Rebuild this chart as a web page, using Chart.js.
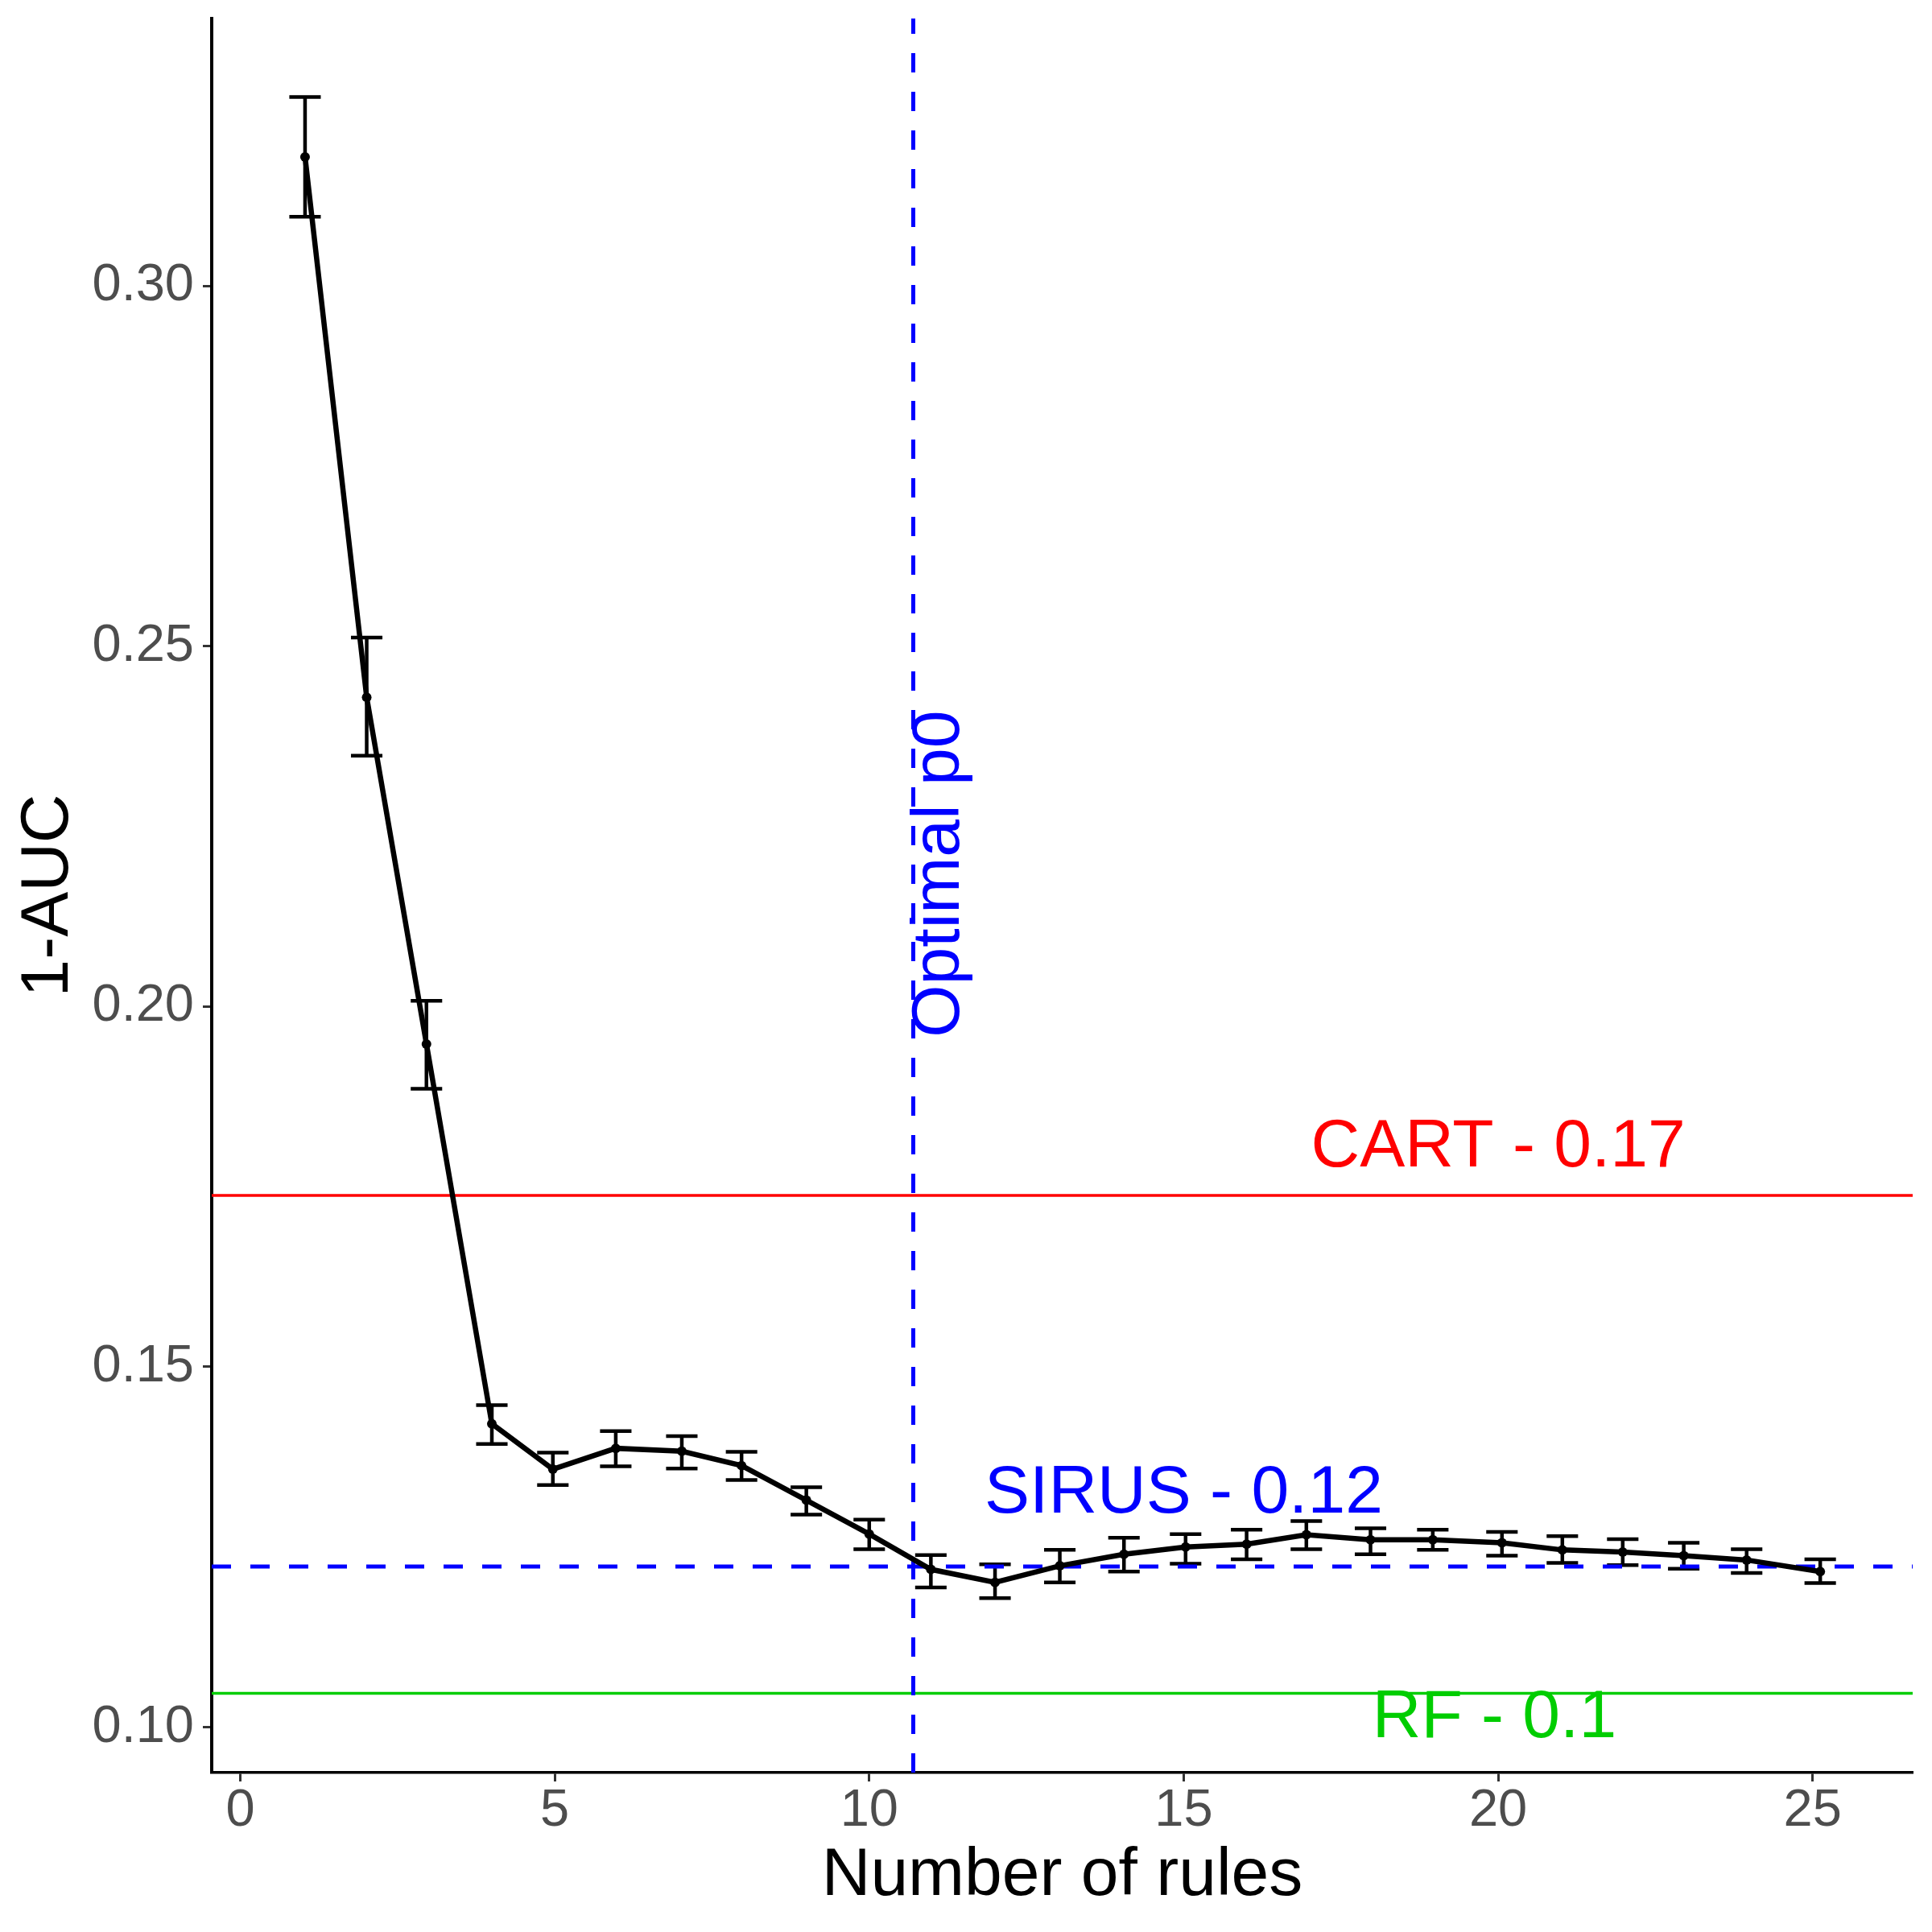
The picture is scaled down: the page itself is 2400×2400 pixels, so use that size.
<!DOCTYPE html>
<html>
<head>
<meta charset="utf-8">
<style>
  html, body { margin: 0; padding: 0; background: #ffffff; }
  #wrap { width: 2400px; height: 2400px; }
</style>
<script src="https://cdn.jsdelivr.net/npm/chart.js@4.4.1/dist/chart.umd.min.js"></script>
</head>
<body>
<div id="wrap"><canvas id="c" width="2400" height="2400"></canvas></div>
<script>
// ---- data ----
const numberOfRules = [1.03, 2.01, 2.96, 4.00, 4.97, 5.97, 7.02, 7.97, 9.00, 10.00,
                       10.98, 12.00, 13.03, 14.05, 15.03, 16.00, 16.95, 17.97, 18.96, 20.06,
                       21.02, 21.98, 22.95, 23.95, 25.12];
const meanError = [0.3179, 0.2429, 0.1948, 0.1421, 0.1358, 0.1387, 0.1383, 0.1363, 0.1315, 0.1268,
                   0.1219, 0.1201, 0.1224, 0.1240, 0.1250, 0.1254, 0.1267, 0.1260, 0.1260, 0.1256,
                   0.1246, 0.1243, 0.1238, 0.1232, 0.1216];
const upperError = [0.3262, 0.2512, 0.2008, 0.1447, 0.1381, 0.1411, 0.1404, 0.1382, 0.1333, 0.1288,
                    0.1239, 0.1226, 0.1246, 0.1263, 0.1268, 0.1274, 0.1286, 0.1276, 0.1274, 0.1271,
                    0.1265, 0.1261, 0.1256, 0.1247, 0.1233];
const lowerError = [0.3096, 0.2348, 0.1886, 0.1393, 0.1336, 0.1362, 0.1359, 0.1343, 0.1295, 0.1247,
                    0.1194, 0.1179, 0.1201, 0.1216, 0.1227, 0.1233, 0.1247, 0.1240, 0.1246, 0.1238,
                    0.1228, 0.1225, 0.1220, 0.1214, 0.1200];
const xTickValues = [0, 5, 10, 15, 20, 25];
const yTickValues = [0.10, 0.15, 0.20, 0.25, 0.30];
const sirusValue = 0.1223;
const cartValue = 0.1738;
const rfValue = 0.1047;
const optimalP0 = 10.7;
const cartLabel = "CART - 0.17";
const sirusLabel = "SIRUS - 0.12";
const rfLabel = "RF - 0.1";
const p0Label = "Optimal p0";
const xTitle = "Number of rules";
const yTitle = "1-AUC";

// ---- axis limits ----
const X_MIN = -0.454, X_MAX = 26.59;
const Y_MIN = 0.0937, Y_MAX = 0.3371;

const FONT = "'Liberation Sans', Arial, sans-serif";

const points = numberOfRules.map((x, i) => ({ x: x, y: meanError[i] }));
function hline(v) { return [{ x: X_MIN, y: v }, { x: X_MAX, y: v }]; }

const errorBarPlugin = {
  id: 'errorBars',
  beforeDatasetsDraw(chart) {
    const ctx = chart.ctx, xs = chart.scales.x, ys = chart.scales.y;
    ctx.save();
    ctx.strokeStyle = '#000000';
    ctx.lineWidth = 4.5;
    ctx.lineCap = 'butt';
    numberOfRules.forEach((x, i) => {
      const px = xs.getPixelForValue(x);
      const pl = xs.getPixelForValue(x - 0.25);
      const pr = xs.getPixelForValue(x + 0.25);
      const pu = ys.getPixelForValue(upperError[i]);
      const pd = ys.getPixelForValue(lowerError[i]);
      ctx.beginPath();
      ctx.moveTo(px, pu); ctx.lineTo(px, pd);
      ctx.moveTo(pl, pu); ctx.lineTo(pr, pu);
      ctx.moveTo(pl, pd); ctx.lineTo(pr, pd);
      ctx.stroke();
    });
    ctx.restore();
  }
};

const labelPlugin = {
  id: 'labels',
  afterDatasetsDraw(chart) {
    const ctx = chart.ctx, xs = chart.scales.x, ys = chart.scales.y;
    ctx.save();
    ctx.font = '84px ' + FONT;
    ctx.textAlign = 'center';
    ctx.textBaseline = 'middle';
    ctx.fillStyle = '#FF0000';
    ctx.fillText(cartLabel, xs.getPixelForValue(20), ys.getPixelForValue(0.1804));
    ctx.fillStyle = '#0000FF';
    ctx.fillText(sirusLabel, xs.getPixelForValue(15), ys.getPixelForValue(sirusValue + 0.0101));
    ctx.fillStyle = '#00CD00';
    ctx.fillText(rfLabel, xs.getPixelForValue(19.94), ys.getPixelForValue(0.1012));
    // rotated label
    ctx.save();
    ctx.translate(xs.getPixelForValue(optimalP0 + 0.43), ys.getPixelForValue(0.2184));
    ctx.rotate(-Math.PI / 2);
    ctx.fillStyle = '#0000FF';
    ctx.fillText(p0Label, 0, 0);
    ctx.restore();
    ctx.restore();
  }
};

new Chart(document.getElementById('c'), {
  type: 'line',
  data: {
    datasets: [
      {
        data: points,
        borderColor: '#000000',
        backgroundColor: '#000000',
        borderWidth: 6.5,
        pointRadius: 6,
        pointBorderWidth: 0,
        pointBackgroundColor: '#000000',
        tension: 0
      },
      {
        data: hline(sirusValue),
        borderColor: '#0000FF',
        borderWidth: 5,
        borderDash: [24, 24],
        pointRadius: 0
      },
      {
        data: [{ x: optimalP0, y: Y_MIN }, { x: optimalP0, y: Y_MAX }],
        borderColor: '#0000FF',
        borderWidth: 5,
        borderDash: [24, 24],
        pointRadius: 0
      },
      {
        data: hline(cartValue),
        borderColor: '#FF0000',
        borderWidth: 3.5,
        pointRadius: 0
      },
      {
        data: hline(rfValue),
        borderColor: '#00CD00',
        borderWidth: 3.5,
        pointRadius: 0
      }
    ]
  },
  options: {
    responsive: false,
    animation: false,
    devicePixelRatio: 1,
    layout: { padding: { top: 23, right: 24, bottom: 0, left: 0 } },
    plugins: { legend: { display: false }, tooltip: { enabled: false } },
    scales: {
      x: {
        type: 'linear',
        min: X_MIN,
        max: X_MAX,
        afterBuildTicks(scale) { scale.ticks = xTickValues.map(v => ({ value: v })); },
        afterFit(scale) { scale.height = 198; scale.paddingLeft = 0; scale.paddingRight = 0; },
        grid: { drawOnChartArea: false, drawTicks: true, tickLength: 11, tickWidth: 3, tickColor: '#333333' },
        border: { display: true, color: '#000000', width: 3.5 },
        ticks: {
          autoSkip: false,
          maxRotation: 0,
          padding: 5,
          color: '#4D4D4D',
          font: { family: FONT, size: 65, lineHeight: 1 },
          callback: (v) => String(v)
        },
        title: {
          display: true,
          text: xTitle,
          color: '#000000',
          font: { family: FONT, size: 84, lineHeight: 1.2 },
          padding: { top: 0, bottom: 19 }
        }
      },
      y: {
        type: 'linear',
        min: Y_MIN,
        max: Y_MAX,
        afterBuildTicks(scale) { scale.ticks = yTickValues.map(v => ({ value: v })); },
        afterFit(scale) { scale.width = 263; scale.paddingTop = 0; scale.paddingBottom = 0; },
        grid: { drawOnChartArea: false, drawTicks: true, tickLength: 11, tickWidth: 3, tickColor: '#333333' },
        border: { display: true, color: '#000000', width: 4 },
        ticks: {
          autoSkip: false,
          padding: 11,
          color: '#4D4D4D',
          font: { family: FONT, size: 65, lineHeight: 1 },
          callback: (v) => Number(v).toFixed(2)
        },
        title: {
          display: true,
          text: yTitle,
          color: '#000000',
          font: { family: FONT, size: 84, lineHeight: 1.2 },
          padding: { top: 10, bottom: 0 }
        }
      }
    }
  },
  plugins: [errorBarPlugin, labelPlugin]
});
</script>
</body>
</html>
